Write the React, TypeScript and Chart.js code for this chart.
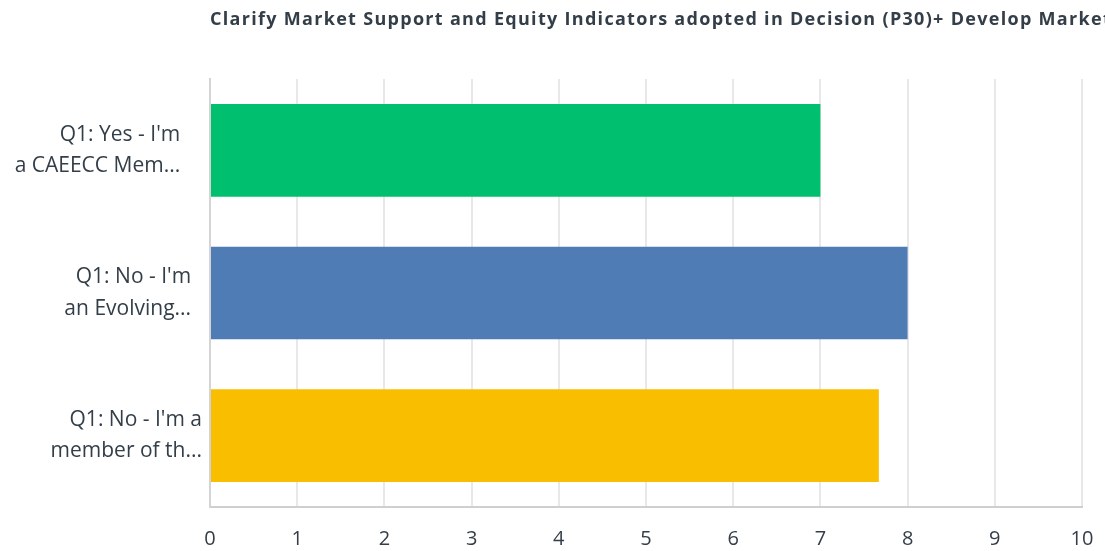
import React, { useEffect, useRef } from "react";
import { Chart, registerables } from "chart.js";

Chart.register(...registerables);

const titleText =
  "Clarify Market Support and Equity Indicators adopted in Decision (P30)+ Develop Market";
const categories: string[][] = [
  ["Q1: Yes - I'm    ", "a CAEECC Mem...    "],
  ["Q1: No - I'm  ", "an Evolving...  "],
  ["Q1: No - I'm a", "member of th..."],
];
const values: number[] = [7, 8, 7.67];
const barColors: string[] = ["#00bf6f", "#507cb6", "#f9be00"];
const xMin = 0;
const xMax = 10;
const xStep = 1;

const textColor = "#333e48";
const fontFamily = "'Open Sans', Roboto, sans-serif";

export default function App() {
  const ref = useRef<HTMLCanvasElement | null>(null);

  useEffect(() => {
    document.body.style.margin = "0";
    const canvas = ref.current;
    if (!canvas) return;

    const titlePlugin = {
      id: "customTitle",
      afterDraw(chart: any) {
        const ctx = chart.ctx;
        ctx.save();
        ctx.font = `bold 18px ${fontFamily}`;
        try {
          (ctx as any).letterSpacing = "1.3px";
        } catch (e) {}
        ctx.fillStyle = textColor;
        ctx.textAlign = "left";
        ctx.textBaseline = "middle";
        ctx.fillText(titleText, chart.chartArea.left, 20);
        ctx.restore();
      },
    };

    const chart = new Chart(canvas, {
      type: "bar",
      data: {
        labels: categories,
        datasets: [
          {
            data: values,
            backgroundColor: barColors,
            borderWidth: 0,
            barPercentage: 0.65,
            categoryPercentage: 1,
          },
        ],
      },
      options: {
        indexAxis: "y",
        animation: false,
        responsive: false,
        maintainAspectRatio: false,
        layout: { padding: { top: 79, right: 23, bottom: 0, left: 0 } },
        plugins: {
          legend: { display: false },
          title: { display: false },
          tooltip: { enabled: false },
        },
        scales: {
          x: {
            min: xMin,
            max: xMax,
            ticks: {
              stepSize: xStep,
              color: textColor,
              padding: 20,
              font: { family: fontFamily, size: 20 },
            },
            grid: {
              color: "#e8e8e8",
              lineWidth: 2,
              drawTicks: false,
            },
            border: { display: true, color: "#cfcfcf", width: 2 },
            afterFit: (scale: any) => {
              scale.height = 44;
              scale.paddingLeft = 0;
              scale.paddingRight = 0;
            },
          },
          y: {
            ticks: {
              color: textColor,
              padding: 8,
              font: { family: fontFamily, size: 21, lineHeight: 1.5 },
            },
            grid: { display: false, drawTicks: false },
            border: { display: true, color: "#d4d4d4", width: 2 },
            afterFit: (scale: any) => {
              scale.width = 210;
            },
          },
        },
      },
      plugins: [titlePlugin],
    } as any);

    return () => chart.destroy();
  }, []);

  return (
    <div style={{ position: "absolute", left: 0, top: 0, width: 1105, height: 551 }}>
      <canvas ref={ref} width={1105} height={551} style={{ width: 1105, height: 551 }} />
    </div>
  );
}
